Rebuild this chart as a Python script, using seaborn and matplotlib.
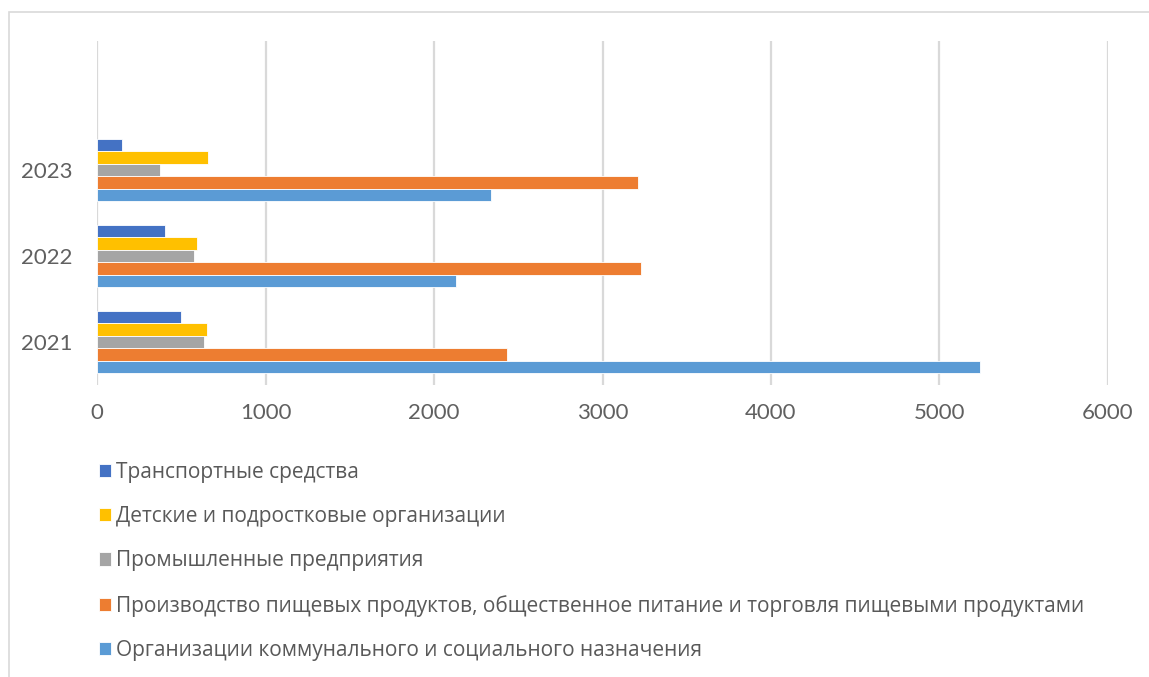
import pandas as pd
import seaborn as sns
import matplotlib.pyplot as plt
from matplotlib.patches import Rectangle

years = ['2023', '2022', '2021']
categories = [
    'Транспортные средства',
    'Детские и подростковые организации',
    'Промышленные предприятия',
    'Производство пищевых продуктов, общественное питание и торговля пищевыми продуктами',
    'Организации коммунального и социального назначения',
]
# values per category, in order of years (2023, 2022, 2021)
transport = [148, 404, 500]
kids = [659, 593, 652]
industry = [371, 575, 637]
food = [3211, 3229, 2432]
communal = [2341, 2132, 5238]
colors = ['#4472C4', '#FFC000', '#A5A5A5', '#ED7D31', '#5B9BD5']

rows = []
for cat, vals in zip(categories, [transport, kids, industry, food, communal]):
    for y, v in zip(years, vals):
        rows.append({'year': y, 'cat': cat, 'value': v})
df = pd.DataFrame(rows)

sns.set_style('white')
plt.rcParams['font.family'] = ['Lato', 'DejaVu Sans']

fig = plt.figure(figsize=(11.49, 6.77), dpi=100)
ax = fig.add_axes([97 / 1149, 1 - 385 / 677, (1108 - 97) / 1149, (385 - 41) / 677])

sns.barplot(data=df, y='year', x='value', hue='cat', order=years, hue_order=categories,
            palette=colors, saturation=1, orient='h', width=0.73, ax=ax,
            edgecolor='white', linewidth=0.6, legend=True)

ax.set_xlim(0, 6000)
ax.set_ylim(2.5, -1.5)
ax.set_xticks(range(0, 6001, 1000))
ax.grid(axis='x', color='#d9d9d9', lw=1.6)
ax.set_axisbelow(True)
for s in ax.spines.values():
    s.set_visible(False)
ax.set_xlabel('')
ax.set_ylabel('')
ax.tick_params(axis='x', length=0, pad=13, labelsize=16, labelcolor='#606060')
ax.tick_params(axis='y', length=0, pad=18, labelsize=16, labelcolor='#606060')

handles, labels = ax.get_legend_handles_labels()
ax.legend_.remove()
fig.legend(handles, labels, loc='upper left', bbox_to_anchor=(80 / 1149, 1 - 443 / 677),
           frameon=False, prop={'family': ['Open Sans', 'DejaVu Sans'], 'size': 15},
           labelcolor='#595959', labelspacing=1.12,
           handlelength=0.6, handleheight=0.6, handletextpad=0.25)

fig.patches.append(Rectangle((9 / 1149, -0.1), 1.2, 0.1 + 1 - 12 / 677, transform=fig.transFigure,
                             fill=False, edgecolor='#d9d9d9', lw=1.2))

plt.savefig('out.png', dpi=100)
